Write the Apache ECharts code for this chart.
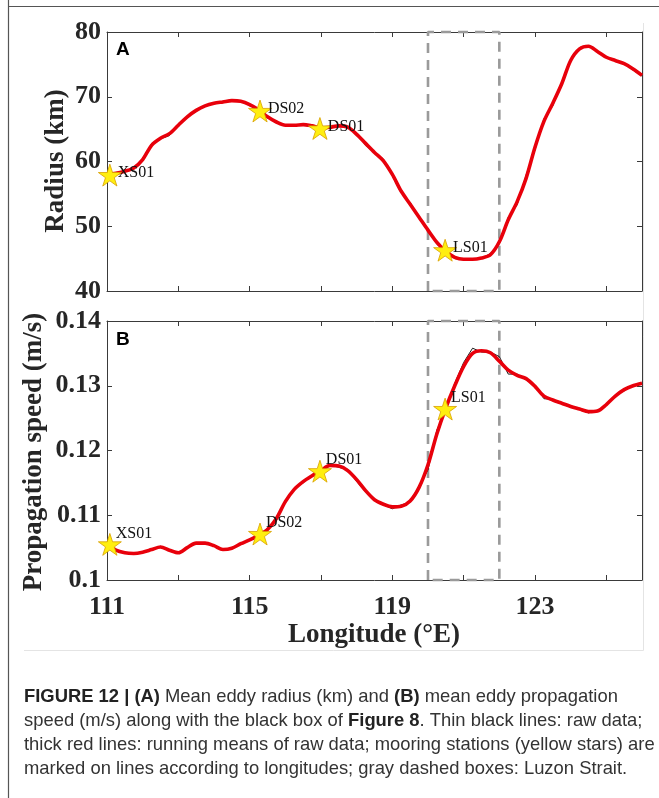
<!DOCTYPE html>
<html>
<head>
<meta charset="utf-8">
<script src="https://cdn.jsdelivr.net/npm/echarts@6/dist/echarts.min.js"></script>
<style>
  html, body { margin: 0; padding: 0; background: #ffffff; }
  #chart { width: 659px; height: 798px; }
</style>
</head>
<body>
<div id="chart"></div>
<script>
// Longitude grid (°E), quarter-degree spacing
const longitude = [
  111.00, 111.25, 111.50, 111.75, 112.00, 112.25, 112.50, 112.75,
  113.00, 113.25, 113.50, 113.75, 114.00, 114.25, 114.50, 114.75,
  115.00, 115.25, 115.50, 115.75, 116.00, 116.25, 116.50, 116.75,
  117.00, 117.25, 117.50, 117.75, 118.00, 118.25, 118.50, 118.75,
  119.00, 119.25, 119.50, 119.75, 120.00, 120.25, 120.50, 120.75,
  121.00, 121.25, 121.50, 121.75, 122.00, 122.25, 122.50, 122.75,
  123.00, 123.25, 123.50, 123.75, 124.00, 124.25, 124.50, 124.75,
  125.00, 125.25, 125.50, 125.75, 126.00
];

// Mean eddy radius (km): raw values and running mean
const radiusRaw = [
  58.0, 58.3, 58.4, 59.1, 60.1, 62.8, 63.5, 64.0,
  65.8, 67.0, 67.7, 68.7, 69.0, 69.3, 69.5, 69.4,
  68.6, 68.1, 66.7, 66.2, 65.5, 65.7, 65.6, 65.4,
  65.3, 65.2, 65.6, 65.2, 64.3, 62.5, 61.3, 60.4,
  57.8, 55.1, 53.7, 51.2, 49.6, 47.2, 46.2, 45.0,
  44.8, 45.0, 45.0, 45.8, 47.3, 51.4, 53.3, 57.9,
  61.8, 66.6, 68.6, 72.3, 75.5, 77.6, 77.9, 76.9,
  76.2, 75.5, 75.2, 74.1, 73.2
];
const radiusMean = [
  58.0, 58.2, 58.5, 59.0, 60.3, 62.5, 63.6, 64.3,
  65.6, 66.9, 67.9, 68.6, 69.0, 69.2, 69.4, 69.3,
  68.8, 68.0, 66.9, 66.1, 65.6, 65.6, 65.7, 65.5,
  65.2, 65.3, 65.5, 65.3, 64.2, 62.8, 61.4, 60.1,
  58.0, 55.4, 53.4, 51.4, 49.4, 47.5, 46.1, 45.2,
  44.9, 44.9, 45.1, 45.6, 47.6, 51.0, 53.8, 57.4,
  62.2, 66.2, 69.0, 72.0, 75.6, 77.4, 77.8, 77.0,
  76.1, 75.6, 75.1, 74.3, 73.3
];

// Mean eddy propagation speed (m/s): raw values and running mean
const speedRaw = [
  0.1056, 0.1045, 0.1043, 0.1040, 0.1044, 0.1046, 0.1052, 0.1045,
  0.1041, 0.1051, 0.1056, 0.1058, 0.1052, 0.1046, 0.1050, 0.1055,
  0.1063, 0.1068, 0.1080, 0.1093, 0.1123, 0.1142, 0.1150, 0.1162,
  0.1168, 0.1178, 0.1174, 0.1171, 0.1152, 0.1136, 0.1125, 0.1116,
  0.1110, 0.1116, 0.1120, 0.1146, 0.1170, 0.1232, 0.1262, 0.1304,
  0.1336, 0.1358, 0.1352, 0.1352, 0.1345, 0.1318, 0.1318, 0.1309,
  0.1301, 0.1280, 0.1279, 0.1272, 0.1269, 0.1263, 0.1258, 0.1262,
  0.1270, 0.1286, 0.1292, 0.1301, 0.1304
];
const speedMean = [
  0.1056, 0.1046, 0.1042, 0.1041, 0.1043, 0.1047, 0.1051, 0.1046,
  0.1042, 0.1050, 0.1057, 0.1057, 0.1053, 0.1047, 0.1049, 0.1056,
  0.1062, 0.1069, 0.1078, 0.1095, 0.1121, 0.1140, 0.1152, 0.1161,
  0.1169, 0.1177, 0.1176, 0.1169, 0.1155, 0.1138, 0.1124, 0.1117,
  0.1113, 0.1114, 0.1122, 0.1143, 0.1178, 0.1226, 0.1266, 0.1300,
  0.1330, 0.1350, 0.1354, 0.1351, 0.1338, 0.1324, 0.1316, 0.1311,
  0.1299, 0.1284, 0.1278, 0.1273, 0.1268, 0.1264, 0.1260, 0.1261,
  0.1271, 0.1284, 0.1294, 0.1300, 0.1304
];

// Mooring stations
const stations = ['XS01', 'DS02', 'DS01', 'LS01'];
const stationLon = [111.08, 115.29, 116.97, 120.48];
const stationRadius = [57.9, 67.8, 65.1, 46.3];
const stationSpeed = [0.1055, 0.1071, 0.1168, 0.1264];

// Luzon Strait longitude band
const luzonBox = [120, 122];

// Axis extents and ticks
const lonRange = [111, 126];
const lonTicks = [111, 113, 115, 117, 119, 121, 123, 125];
const lonLabels = [111, 115, 119, 123];
const radiusRange = [40, 80];
const radiusTicks = [40, 50, 60, 70, 80];
const speedRange = [0.1, 0.14];
const speedTicks = [0.1, 0.11, 0.12, 0.13, 0.14];

const AXIS_COLOR = '#3a3a3a';
const SERIF = '"Liberation Serif", "Times New Roman", serif';
const SANS = '"Liberation Sans", Arial, sans-serif';

const STAR = 'path://M50,0 L61.23,34.55 L97.55,34.55 L68.16,55.9 L79.39,90.45 L50,69.1 L20.61,90.45 L31.84,55.9 L2.45,34.55 L38.77,34.55 Z';

const chart = echarts.init(document.getElementById('chart'), null, { renderer: 'canvas' });

function pairs(xs, ys) { return xs.map((x, i) => [x, ys[i]]); }

function xAxisFor(gridIndex, position, showLabels) {
  return {
    type: 'value', gridIndex, position,
    min: lonRange[0], max: lonRange[1],
    axisLine: { show: true, onZero: false, lineStyle: { color: AXIS_COLOR, width: 1 } },
    axisTick: { show: true, inside: true, length: 5, lineStyle: { color: AXIS_COLOR }, customValues: lonTicks },
    axisLabel: {
      show: showLabels, customValues: lonLabels, margin: 14,
      fontFamily: SERIF, fontWeight: 'bold', fontSize: 26, color: '#262626'
    },
    splitLine: { show: false }
  };
}

function yAxisFor(gridIndex, position, range, ticks, showLabels) {
  return {
    type: 'value', gridIndex, position,
    min: range[0], max: range[1],
    axisLine: { show: true, onZero: false, lineStyle: { color: AXIS_COLOR, width: 1 } },
    axisTick: { show: true, inside: true, length: 5, lineStyle: { color: AXIS_COLOR }, customValues: ticks },
    axisLabel: {
      show: showLabels, customValues: ticks, margin: 6,
      fontFamily: SERIF, fontWeight: 'bold', fontSize: 26, color: '#262626',
      formatter: v => String(+v.toFixed(4))
    },
    splitLine: { show: false }
  };
}

function boxSeries(xi, yi, range) {
  return {
    type: 'line', xAxisIndex: xi, yAxisIndex: yi, z: 1, silent: true,
    symbol: 'none', clip: false,
    data: [[luzonBox[0], range[0]], [luzonBox[0], range[1]], [luzonBox[1], range[1]],
           [luzonBox[1], range[0]], [luzonBox[0], range[0]]],
    lineStyle: { color: '#9a9a9a', width: 2.6, type: [10, 7] }
  };
}

function rawSeries(xi, yi, values) {
  return {
    type: 'line', xAxisIndex: xi, yAxisIndex: yi, z: 2, symbol: 'none',
    data: pairs(longitude, values),
    lineStyle: { color: '#000000', width: 0.9 }
  };
}

function meanSeries(xi, yi, values) {
  return {
    type: 'line', xAxisIndex: xi, yAxisIndex: yi, z: 3, symbol: 'none', smooth: 0.3,
    data: pairs(longitude, values),
    lineStyle: { color: '#e8000b', width: 3.6 }
  };
}

function starSeries(xi, yi, values, labelOffset) {
  return {
    type: 'scatter', xAxisIndex: xi, yAxisIndex: yi, z: 4, clip: false,
    symbol: STAR, symbolSize: 23, symbolKeepAspect: true,
    data: stationLon.map((x, i) => ({ value: [x, values[i]], name: stations[i] })),
    itemStyle: { color: '#ffee10', borderColor: '#d8a000', borderWidth: 0.8, opacity: 1 },
    label: {
      show: true, position: 'right', distance: 5, offset: labelOffset,
      formatter: p => p.name,
      fontFamily: SERIF, fontSize: 16, color: '#111111'
    }
  };
}

const option = {
  backgroundColor: '#ffffff',
  animation: false,
  grid: [
    { left: 107, top: 32, width: 535, height: 259 },
    { left: 107, top: 321, width: 535, height: 259 }
  ],
  xAxis: [
    xAxisFor(0, 'bottom', false),
    xAxisFor(0, 'top', false),
    xAxisFor(1, 'bottom', true),
    xAxisFor(1, 'top', false)
  ],
  yAxis: [
    yAxisFor(0, 'left', radiusRange, radiusTicks, true),
    yAxisFor(0, 'right', radiusRange, radiusTicks, false),
    yAxisFor(1, 'left', speedRange, speedTicks, true),
    yAxisFor(1, 'right', speedRange, speedTicks, false)
  ],
  series: [
    boxSeries(0, 0, radiusRange),
    rawSeries(0, 0, radiusRaw),
    meanSeries(0, 0, radiusMean),
    starSeries(0, 0, stationRadius, [-9, -2]),
    boxSeries(2, 2, speedRange),
    rawSeries(2, 2, speedRaw),
    meanSeries(2, 2, speedMean),
    starSeries(2, 2, stationSpeed, [-11, -11])
  ],
  graphic: [
    // page frame
    { type: 'line', shape: { x1: 8.5, y1: 0, x2: 8.5, y2: 798 }, style: { stroke: '#555555', lineWidth: 1.2 } },
    { type: 'line', shape: { x1: 8, y1: 6.5, x2: 659, y2: 6.5 }, style: { stroke: '#555555', lineWidth: 1.2 } },
    // figure image edge
    { type: 'line', shape: { x1: 643.5, y1: 23, x2: 643.5, y2: 650.5 }, style: { stroke: '#e4e4e4', lineWidth: 1 } },
    { type: 'line', shape: { x1: 24, y1: 650.5, x2: 643.5, y2: 650.5 }, style: { stroke: '#e4e4e4', lineWidth: 1 } },
    // panel letters
    { type: 'text', x: 116, y: 50, style: { text: 'A', fontFamily: SANS, fontWeight: 'bold', fontSize: 19, fill: '#000', textVerticalAlign: 'middle', verticalAlign: 'middle' } },
    { type: 'text', x: 116, y: 340, style: { text: 'B', fontFamily: SANS, fontWeight: 'bold', fontSize: 19, fill: '#000', textVerticalAlign: 'middle', verticalAlign: 'middle' } },
    // axis titles
    { type: 'text', x: 56, y: 161, rotation: Math.PI / 2,
      style: { text: 'Radius (km)', fontFamily: SERIF, fontWeight: 'bold', fontSize: 27, fill: '#262626',
               textAlign: 'center', align: 'center', textVerticalAlign: 'middle', verticalAlign: 'middle' } },
    { type: 'text', x: 34, y: 452, rotation: Math.PI / 2,
      style: { text: 'Propagation speed (m/s)', fontFamily: SERIF, fontWeight: 'bold', fontSize: 27, fill: '#262626',
               textAlign: 'center', align: 'center', textVerticalAlign: 'middle', verticalAlign: 'middle' } },
    { type: 'text', x: 374, y: 635,
      style: { text: 'Longitude (°E)', fontFamily: SERIF, fontWeight: 'bold', fontSize: 27, fill: '#262626',
               textAlign: 'center', align: 'center', textVerticalAlign: 'middle', verticalAlign: 'middle' } }
  ]
};

// Caption lines
const captionLines = [
  '{b|FIGURE 12 | (A)} Mean eddy radius (km) and {b|(B)} mean eddy propagation',
  'speed (m/s) along with the black box of {b|Figure 8}. Thin black lines: raw data;',
  'thick red lines: running means of raw data; mooring stations (yellow stars) are',
  'marked on lines according to longitudes; gray dashed boxes: Luzon Strait.'
];
captionLines.forEach((line, i) => {
  option.graphic.push({
    type: 'text', x: 24, y: 697 + i * 24,
    style: {
      text: line, fontFamily: SANS, fontSize: 18.4, fill: '#333333',
      textVerticalAlign: 'middle', verticalAlign: 'middle',
      rich: { b: { fontFamily: SANS, fontSize: 18.4, fontWeight: 'bold', fill: '#222222' } }
    }
  });
});

chart.setOption(option);
</script>
</body>
</html>
